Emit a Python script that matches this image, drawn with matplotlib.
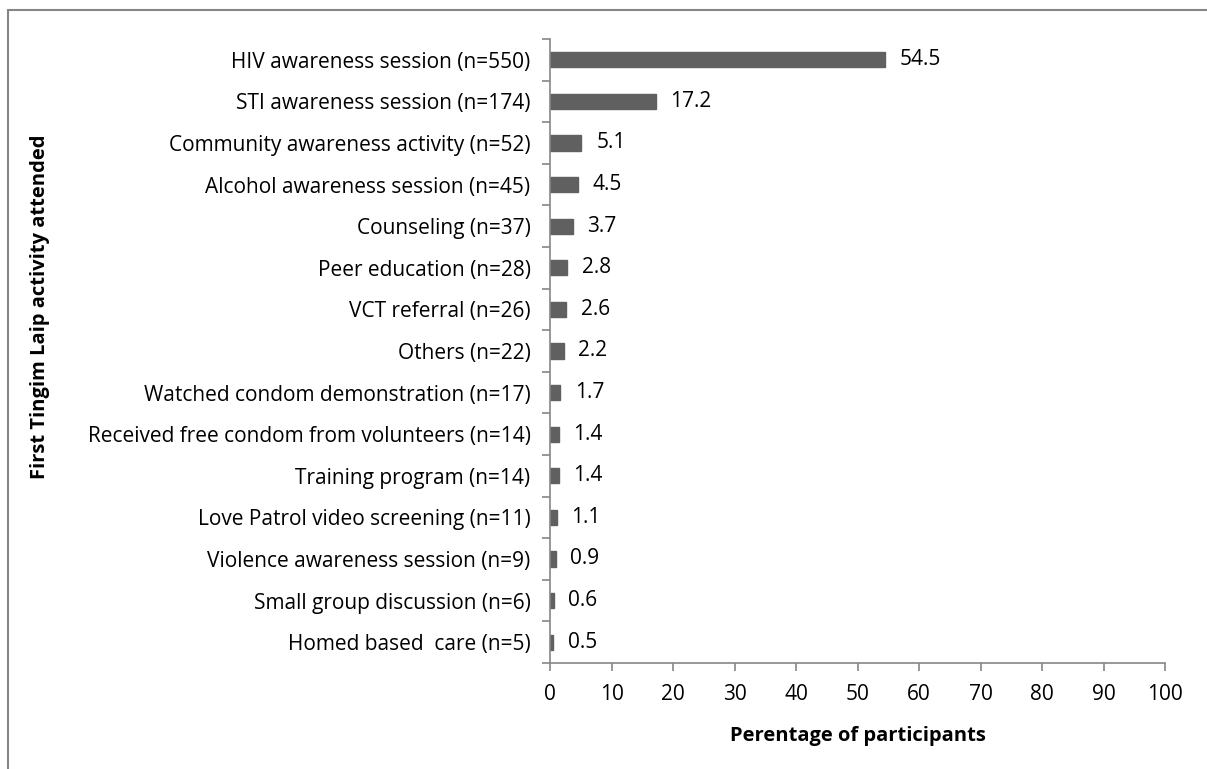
import matplotlib
matplotlib.use("Agg")
import matplotlib.pyplot as plt
from matplotlib.patches import Rectangle
from matplotlib.ticker import MultipleLocator, FixedLocator

categories = [
    "HIV awareness session (n=550)",
    "STI awareness session (n=174)",
    "Community awareness activity (n=52)",
    "Alcohol awareness session (n=45)",
    "Counseling (n=37)",
    "Peer education (n=28)",
    "VCT referral (n=26)",
    "Others (n=22)",
    "Watched condom demonstration (n=17)",
    "Received free condom from volunteers (n=14)",
    "Training program (n=14)",
    "Love Patrol video screening (n=11)",
    "Violence awareness session (n=9)",
    "Small group discussion (n=6)",
    "Homed based  care (n=5)",
]
values = [54.5, 17.2, 5.1, 4.5, 3.7, 2.8, 2.6, 2.2, 1.7, 1.4, 1.4, 1.1, 0.9, 0.6, 0.5]

plt.rcParams['font.family'] = ['Open Sans', 'DejaVu Sans']
FS = 15
FSB = 14.5

fig = plt.figure(figsize=(12.07, 7.69), dpi=100)
ax = fig.add_axes([550/1207, 1 - 663/769, 615/1207, 624/769])

n = len(categories)
ypos = list(range(n))
ax.barh(ypos, values, height=0.37, color='#606060', edgecolor='#606060')
for y, v in zip(ypos, values):
    ax.text(v + 2.4, y, f"{v}", va='center', ha='left', fontsize=FS, color='black')

ax.set_ylim(n - 0.5, -0.5)
ax.set_xlim(0, 100)
ax.xaxis.set_major_locator(MultipleLocator(10))
ax.set_yticks(ypos)
ax.set_yticklabels(categories, fontsize=FS)
ax.yaxis.set_minor_locator(FixedLocator([i - 0.5 for i in range(n + 1)]))
ax.tick_params(axis='y', which='major', length=0, pad=14)
ax.tick_params(axis='y', which='minor', length=6, color='#868686', width=1.2)
ax.tick_params(axis='x', which='major', length=6, color='#868686', width=1.2, labelsize=FS, pad=9)

for s in ['top', 'right']:
    ax.spines[s].set_visible(False)
for s in ['left', 'bottom']:
    ax.spines[s].set_color('#868686')
    ax.spines[s].set_linewidth(1.2)

ax.set_xlabel("Perentage of participants", fontsize=FSB, fontweight='bold', labelpad=15)
fig.text(40/1207, 1 - 307/769, "First Tingim Laip activity attended",
         rotation=90, fontsize=FSB, fontweight='bold', ha='center', va='center')

border = Rectangle((8/1207, -0.1), 1.2, 1 - 10/769 + 0.1, transform=fig.transFigure,
                   fill=False, edgecolor='#868686', linewidth=1.5)
fig.add_artist(border)

fig.savefig("out.png", dpi=100)
